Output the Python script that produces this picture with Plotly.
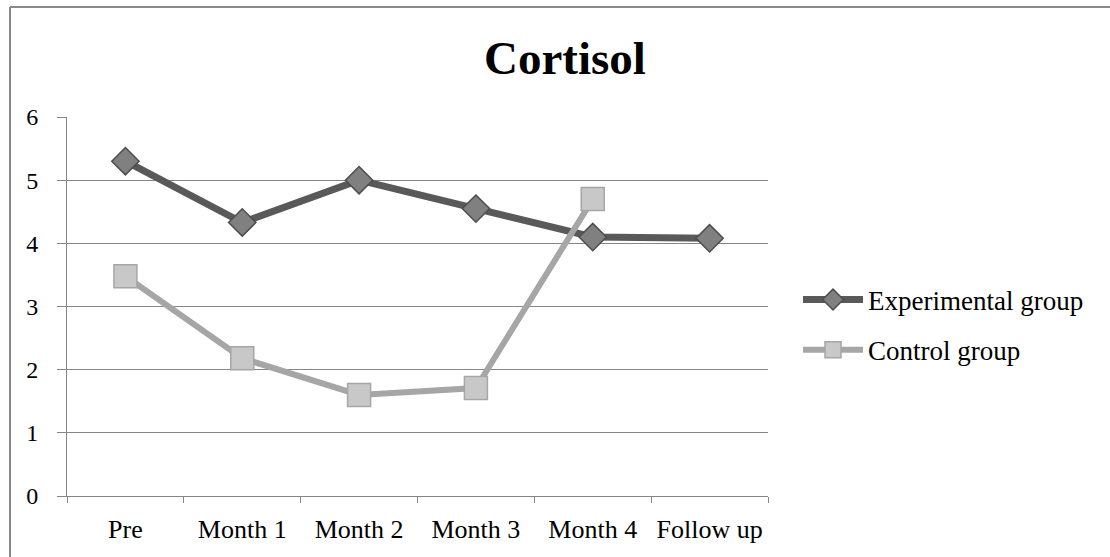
import plotly.graph_objects as go

categories = ["Pre", "Month 1", "Month 2", "Month 3", "Month 4", "Follow up"]
experimental = [5.3, 4.33, 5.0, 4.55, 4.1, 4.08]
control = [3.48, 2.18, 1.6, 1.71, 4.7, None]

FONT = "Liberation Serif"

fig = go.Figure()
fig.add_trace(go.Scatter(
    x=categories, y=experimental, name="Experimental group",
    mode="lines+markers", legendgroup="exp",
    line=dict(color="#595959", width=7),
    marker=dict(symbol="diamond", size=21, color="#808080",
                line=dict(color="#4d4d4d", width=1.5)),
))
fig.add_trace(go.Scatter(
    x=categories, y=control, name="Control group",
    mode="lines+markers", legendgroup="ctl",
    line=dict(color="#a6a6a6", width=6),
    marker=dict(symbol="square", size=23, color="#c8c8c8",
                line=dict(color="#a6a6a6", width=1.5)),
))

L, R, T, B = 67, 342, 117, 61
W, H = 1110, 557
pw, ph = W - L - R, H - T - B

def px_x(x):
    return (x - L) / pw

def px_y(y):
    return (H - B - y) / ph

fig.update_layout(
    width=W, height=H,
    margin=dict(l=L, r=R, t=T, b=B),
    paper_bgcolor="white", plot_bgcolor="white",
    font=dict(family=FONT, size=26, color="#000000"),
    title=dict(text="<b>Cortisol</b>", font=dict(family=FONT, size=47, color="#000"),
               x=565 / W, xanchor="center", y=1 - 58 / H, yanchor="middle"),
    showlegend=True,
    legend=dict(x=px_x(798), y=px_y(325), xanchor="left", yanchor="middle",
                font=dict(family=FONT, size=27), itemwidth=60,
                traceorder="grouped", tracegroupgap=12,
                bgcolor="rgba(0,0,0,0)"),
    xaxis=dict(
        type="category", range=[-0.5, 5.5],
        showline=True, linecolor="#868686", linewidth=1,
        ticks="outside", tickson="boundaries", ticklen=6, tickcolor="#868686",
        showgrid=False, tickfont=dict(family=FONT, size=26),
        ticklabelstandoff=10,
    ),
    yaxis=dict(
        range=[0, 6], dtick=1, tick0=0,
        showline=True, linecolor="#868686", linewidth=1,
        ticks="outside", ticklen=9, tickcolor="#868686",
        showgrid=True, gridcolor="#868686", gridwidth=1,
        zeroline=False, tickfont=dict(family=FONT, size=24),
        ticklabelstandoff=14,
    ),
    shapes=[
        dict(type="line", xref="paper", yref="paper",
             x0=px_x(10), x1=px_x(1115), y0=px_y(7), y1=px_y(7),
             line=dict(color="#888888", width=2)),
        dict(type="line", xref="paper", yref="paper",
             x0=px_x(10), x1=px_x(10), y0=px_y(7), y1=px_y(565),
             line=dict(color="#888888", width=2)),
    ],
)

fig.write_html(
    "out.html",
    config={"displayModeBar": False},
    post_script="document.body.style.margin='0';document.body.style.overflow='hidden';",
)
